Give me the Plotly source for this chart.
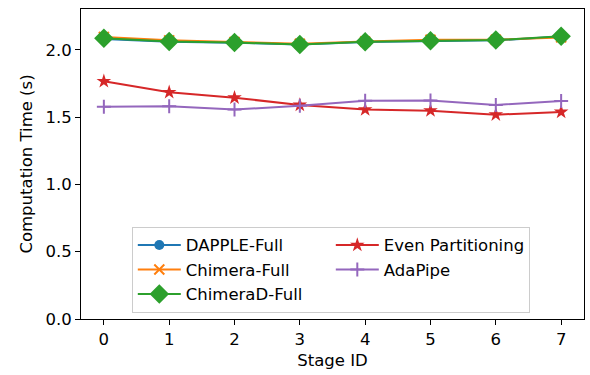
import plotly.graph_objects as go

stages = [0, 1, 2, 3, 4, 5, 6, 7]
dapple = [2.080, 2.060, 2.052, 2.040, 2.058, 2.066, 2.070, 2.098]
chimera = [2.095, 2.070, 2.058, 2.045, 2.062, 2.074, 2.075, 2.092]
chimerad = [2.085, 2.062, 2.054, 2.040, 2.060, 2.068, 2.072, 2.100]
even = [1.766, 1.684, 1.644, 1.590, 1.556, 1.548, 1.518, 1.538]
adapipe = [1.577, 1.580, 1.556, 1.585, 1.622, 1.624, 1.590, 1.620]

series = [
    ("DAPPLE-Full", dapple, "#1f77b4", "circle", 10, 1),
    ("Chimera-Full", chimera, "#ff7f0e", "x-thin", 10, 3),
    ("ChimeraD-Full", chimerad, "#2ca02c", "diamond", 15, 5),
    ("Even Partitioning", even, "#d62728", "star", 11, 2),
    ("AdaPipe", adapipe, "#9467bd", "cross-thin", 10, 4),
]

fig = go.Figure()
for name, vals, color, sym, size, rank in series:
    fig.add_trace(go.Scatter(
        x=stages, y=vals, name=name, mode="lines+markers",
        line=dict(color=color, width=2),
        marker=dict(symbol=sym, size=size, color=color,
                    line=dict(color=color, width=2 if "thin" in sym else 0)),
        legendrank=rank,
    ))

font = "DejaVu Sans"
fs = 16.5
axis_common = dict(
    showgrid=False, zeroline=False, showline=True, linecolor="black", linewidth=1,
    mirror=True, ticks="outside", ticklen=5, tickcolor="black", tickwidth=1,
    tickfont=dict(family=font, size=fs, color="black"),
)
fig.update_layout(
    width=590, height=375,
    margin=dict(l=81, r=6, t=9, b=56),
    plot_bgcolor="white", paper_bgcolor="white",
    font=dict(family=font, size=fs, color="black"),
    xaxis=dict(range=[-0.35, 7.35], tickmode="array", tickvals=stages,
               title=dict(text="Stage ID", font=dict(family=font, size=fs), standoff=6),
               **axis_common),
    yaxis=dict(range=[0, 2.303], tickmode="array", tickvals=[0, 0.5, 1.0, 1.5, 2.0],
               ticktext=["0.0", "0.5", "1.0", "1.5", "2.0"],
               title=dict(text="Computation Time (s)", font=dict(family=font, size=fs), standoff=8),
               **axis_common),
    legend=dict(orientation="h", x=0.101, xanchor="left", y=0.02, yanchor="bottom",
                entrywidth=140, entrywidthmode="pixels",
                bgcolor="rgba(255,255,255,0.8)", bordercolor="#cccccc", borderwidth=1,
                font=dict(family=font, size=fs, color="black"),
                tracegroupgap=0, itemwidth=43),
)
fig.write_html("out.html")
